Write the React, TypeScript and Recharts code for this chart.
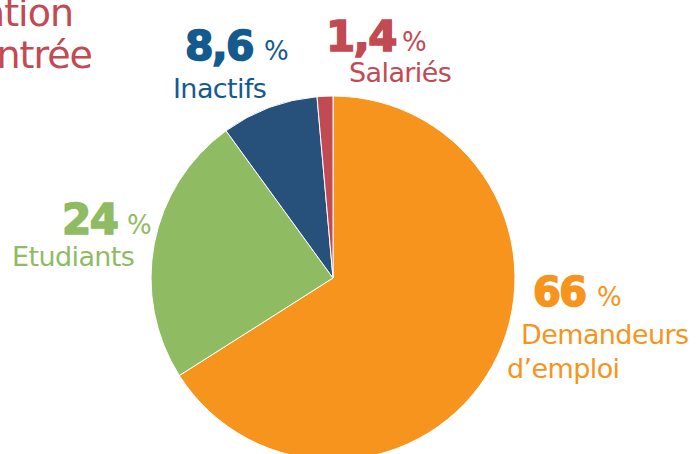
import { Cell, Pie, PieChart } from 'recharts';

const categories = ['Demandeurs d\u2019emploi', 'Etudiants', 'Inactifs', 'Salariés'];
const shares = [66, 24, 8.6, 1.4];
const shareLabels = ['66', '24', '8,6', '1,4'];
const colors = ['#F7941D', '#8FBC63', '#27507A', '#C24A52'];
const labelColors = ['#F7941D', '#8FBC63', '#155A8E', '#C24A52'];

const data = categories.map((name, i) => ({ name, value: shares[i] }));

// where each annotation sits: number (x/y), percent sign (px), caption lines
const labelLayout = [
  { x: 533, y: 306, size: 40, px: 597, lines: ['Demandeurs', 'd\u2019emploi'], lx: [521, 507], ly: [344, 378] },
  { x: 62, y: 234, size: 42, px: 127, lines: ['Etudiants'], lx: [12], ly: [266] },
  { x: 185, y: 60, size: 41, px: 264, lines: ['Inactifs'], lx: [173], ly: [98] },
  { x: 326, y: 51, size: 42, px: 402, lines: ['Salariés'], lx: [349], ly: [82] },
];

const FONT = '"DejaVu Sans", sans-serif';

const renderLabel = (props: any) => {
  const i = props.index;
  const l = labelLayout[i];
  const c = labelColors[i];
  return (
    <g key={`lbl-${i}`}>
      <text
        x={l.x}
        y={l.y}
        fill={c}
        stroke={c}
        strokeWidth={1.6}
        fontFamily={FONT}
        fontWeight={700}
        fontSize={l.size}
        letterSpacing={-1.5}
      >
        {shareLabels[i]}
      </text>
      <text x={l.px} y={l.y} fill={c} fontFamily={FONT} fontSize={26}>
        %
      </text>
      {l.lines.map((line, j) => (
        <text key={j} x={l.lx[j]} y={l.ly[j]} fill={c} fontFamily={FONT} fontSize={27} letterSpacing={-0.6}>
          {line}
        </text>
      ))}
    </g>
  );
};

export default function App() {
  return (
    <div style={{ position: 'absolute', left: 0, top: 0, width: 698, height: 454, background: '#fff', overflow: 'hidden' }}>
      <svg width={698} height={100} style={{ position: 'absolute', left: 0, top: 0 }}>
        <text x={73} y={26} textAnchor="end" fill="#C24A52" fontFamily={FONT} fontSize={38} letterSpacing={-1}>
          Situation
        </text>
        <text x={92} y={68} textAnchor="end" fill="#C24A52" fontFamily={FONT} fontSize={38} letterSpacing={-1}>
          à l&apos;entrée
        </text>
      </svg>
      <PieChart
        width={698}
        height={454}
        margin={{ top: 0, right: 0, bottom: 0, left: 0 }}
        style={{ position: 'absolute', left: 0, top: 0 }}
      >
        <Pie
          data={data}
          dataKey="value"
          nameKey="name"
          cx={333}
          cy={278}
          outerRadius={182}
          startAngle={90}
          endAngle={-270}
          stroke="#ffffff"
          strokeWidth={1}
          label={renderLabel}
          labelLine={false}
          isAnimationActive={false}
        >
          {data.map((d, i) => (
            <Cell key={d.name} fill={colors[i]} />
          ))}
        </Pie>
      </PieChart>
    </div>
  );
}
